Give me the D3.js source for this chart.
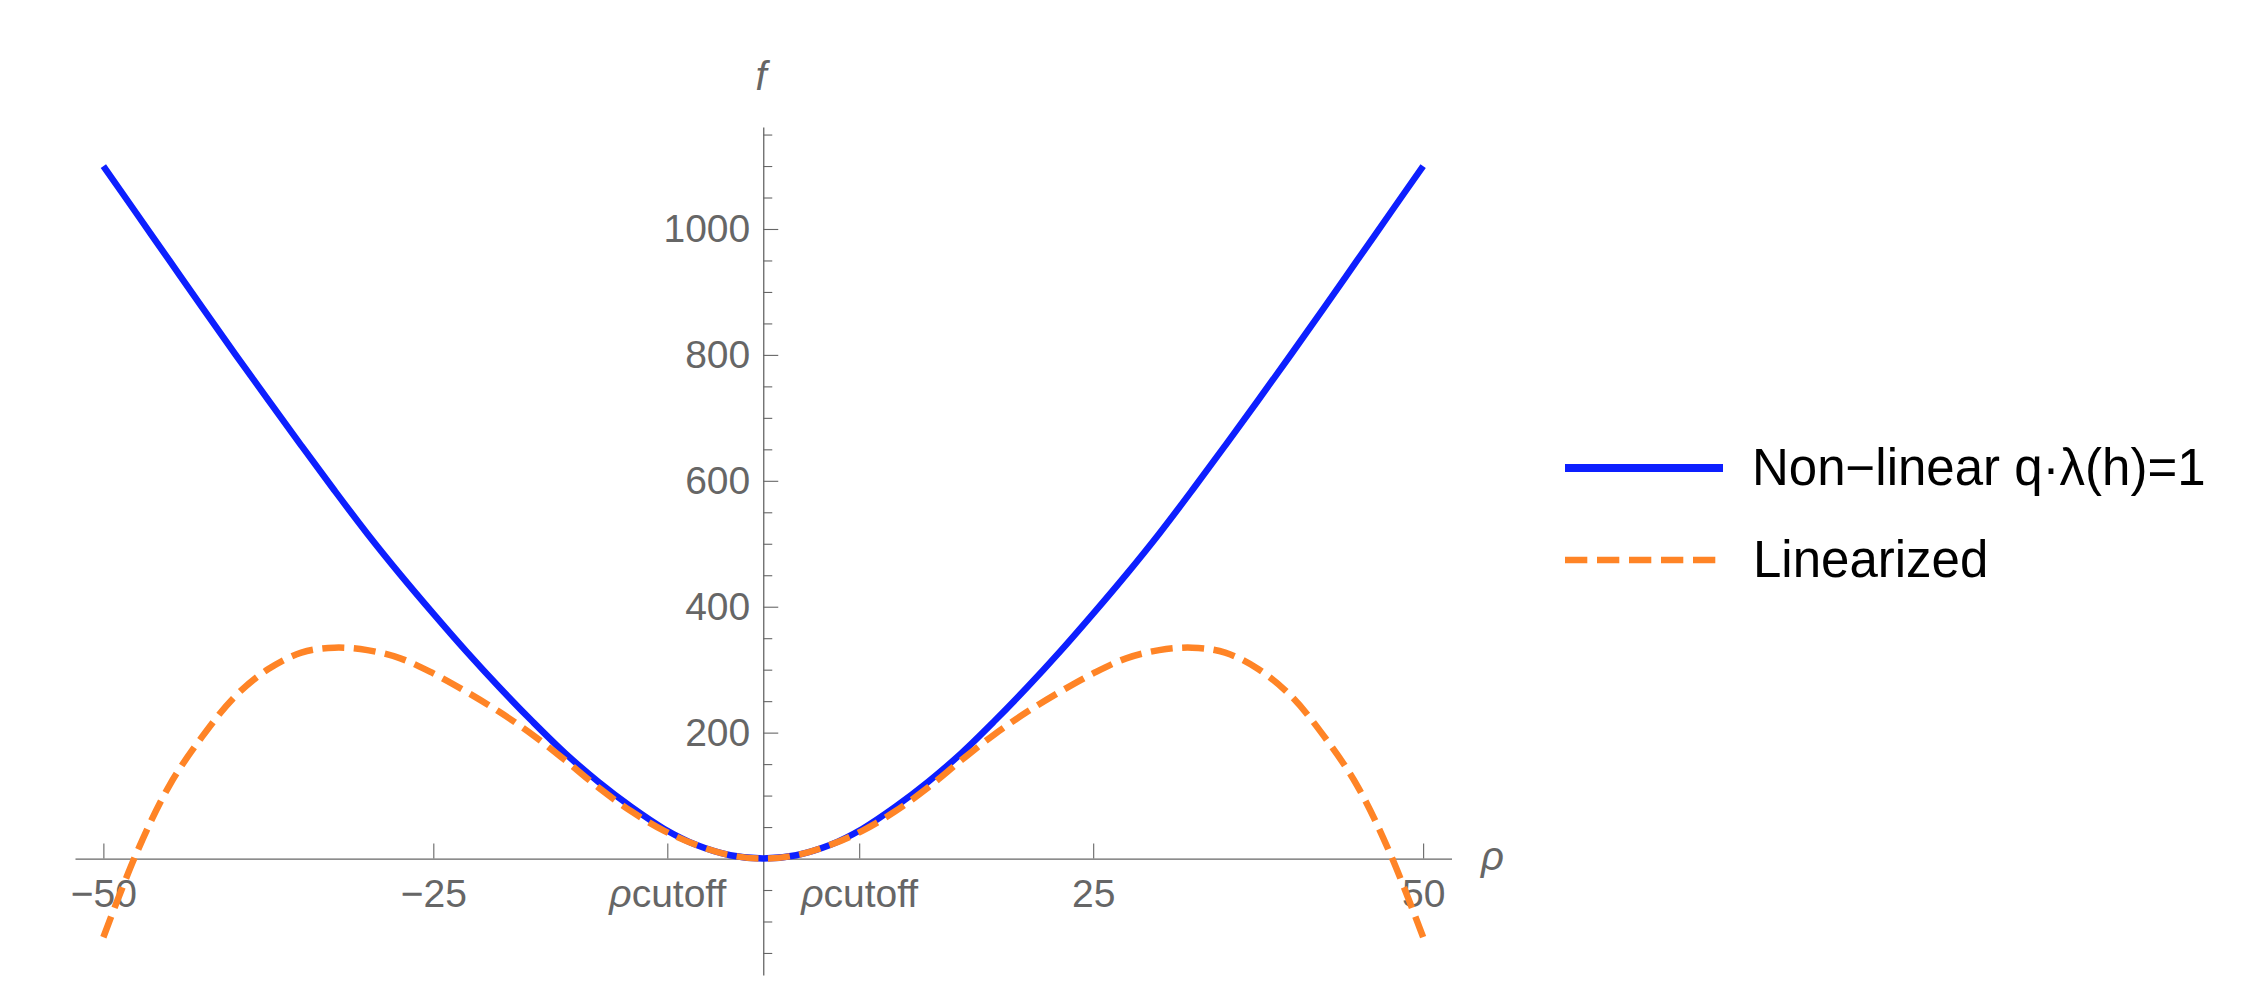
<!DOCTYPE html>
<html>
<head>
<meta charset="utf-8">
<script src="https://cdn.jsdelivr.net/npm/d3@7"></script>
<style>
  html, body { margin: 0; padding: 0; background: #fff; }
  svg { display: block; }
  text { font-family: "Liberation Sans", Arial, Helvetica, sans-serif; }
</style>
</head>
<body>
<div id="chart"></div>
<script>
// ---- Data ----
const rho = [-50, -47.5, -45, -42.5, -40, -37.5, -35, -32.5, -30, -27.5, -25, -22.5, -20, -17.5, -15, -12.5, -10, -7.5, -5, -2.5,
             0, 2.5, 5, 7.5, 10, 12.5, 15, 17.5, 20, 22.5, 25, 27.5, 30, 32.5, 35, 37.5, 40, 42.5, 45, 47.5, 50];
const nonLinear = [1100, 1025, 950, 875, 801, 728, 656, 585, 516, 451, 389, 329, 272, 218, 167, 122, 82, 47, 21, 5.3,
                   0, 5.3, 21, 47, 82, 122, 167, 218, 272, 329, 389, 451, 516, 585, 656, 728, 801, 875, 950, 1025, 1100];
const linearized = [-125, 8, 116, 194, 258, 301, 327, 335, 331, 318, 294, 265, 233, 197, 156, 113, 75, 44, 21, 5.3,
                    0, 5.3, 21, 44, 75, 113, 156, 197, 233, 265, 294, 318, 331, 335, 327, 301, 258, 194, 116, 8, -125];
const rhoCutoff = 7.27;
const xTickValues = [-50, -25, -rhoCutoff, rhoCutoff, 25, 50];
const xTickLabels = ["\u221250", "\u221225", "\u03C1cutoff", "\u03C1cutoff", "25", "50"];
const yMajorTicks = [200, 400, 600, 800, 1000];
const yMinorTicks = [-150, -100, -50, 50, 100, 150, 250, 300, 350, 450, 500, 550, 650, 700, 750, 850, 900, 950, 1050, 1100, 1150];
const seriesNames = ["Non\u2212linear q\u00B7\u03BB(h)=1", "Linearized"];
const seriesColors = ["#0D1FFF", "#FF8426"];

// ---- Layout ----
const W = 2262, H = 982;
const axisColor = "#666666";
const svg = d3.select("#chart").append("svg").attr("width", W).attr("height", H);
svg.append("rect").attr("width", W).attr("height", H).attr("fill", "#fff");

const x = d3.scaleLinear().domain([-52.15, 52.15]).range([75, 1451.5]);
const y = d3.scaleLinear().domain([-185, 1162]).range([975, 127]);

// ---- Axes ----
const xAxis = d3.axisBottom(x)
  .tickValues(xTickValues)
  .tickFormat((d, i) => xTickLabels[i])
  .tickSizeInner(-15).tickSizeOuter(0).tickPadding(21);
const gx = svg.append("g").attr("transform", `translate(0,${y(0)})`).call(xAxis);
gx.select(".domain").attr("stroke", axisColor).attr("stroke-width", 1.3);
gx.selectAll(".tick line").attr("stroke", axisColor).attr("stroke-width", 1.1);
gx.selectAll(".tick text").attr("fill", axisColor).attr("font-size", 39)
  .attr("font-family", '"Liberation Sans", Arial, sans-serif')
  .each(function(d, i) {
    const t = d3.select(this);
    const lbl = xTickLabels[i];
    if (lbl.startsWith("\u03C1")) {
      t.text(null);
      t.append("tspan").attr("font-style", "italic").text("\u03C1");
      t.append("tspan").text(lbl.slice(1));
    }
  });

const yAxis = d3.axisLeft(y)
  .tickValues(yMajorTicks)
  .tickFormat(d3.format("d"))
  .tickSizeInner(-15).tickSizeOuter(0).tickPadding(13);
const gy = svg.append("g").attr("transform", `translate(${x(0)},0)`).call(yAxis);
gy.select(".domain").attr("stroke", axisColor).attr("stroke-width", 1.3);
gy.selectAll(".tick line").attr("stroke", axisColor).attr("stroke-width", 1.1);
gy.selectAll(".tick text").attr("fill", axisColor).attr("font-size", 39)
  .attr("font-family", '"Liberation Sans", Arial, sans-serif');

const yMinor = d3.axisLeft(y).tickValues(yMinorTicks).tickSizeInner(-9).tickSizeOuter(0).tickFormat("");
const gym = svg.append("g").attr("transform", `translate(${x(0)},0)`).call(yMinor);
gym.select(".domain").remove();
gym.selectAll(".tick line").attr("stroke", axisColor).attr("stroke-width", 1.1);

// axis labels
svg.append("text").attr("x", 761).attr("y", 90).attr("text-anchor", "middle")
  .attr("font-size", 40).attr("font-style", "italic").attr("fill", axisColor).text("f");
svg.append("text").attr("x", 1481).attr("y", 870).attr("text-anchor", "start")
  .attr("font-size", 40).attr("font-style", "italic").attr("fill", axisColor).text("\u03C1");

// ---- Curves ----
const pts1 = rho.map((r, i) => [r, nonLinear[i]]);
const pts2 = rho.map((r, i) => [r, linearized[i]]);
const line = d3.line().x(d => x(d[0])).y(d => y(d[1])).curve(d3.curveCatmullRom.alpha(0.5));

svg.append("path").attr("d", line(pts1)).attr("fill", "none")
  .attr("stroke", seriesColors[0]).attr("stroke-width", 6.5).attr("stroke-linejoin", "round");
svg.append("path").attr("d", line(pts2)).attr("fill", "none")
  .attr("stroke", seriesColors[1]).attr("stroke-width", 6.5)
  .attr("stroke-dasharray", "22,9.5");

// ---- Legend ----
const legend = svg.append("g");
legend.append("line").attr("x1", 1565).attr("x2", 1723).attr("y1", 468).attr("y2", 468)
  .attr("stroke", seriesColors[0]).attr("stroke-width", 8);
legend.append("line").attr("x1", 1565).attr("x2", 1716).attr("y1", 560).attr("y2", 560)
  .attr("stroke", seriesColors[1]).attr("stroke-width", 6.7).attr("stroke-dasharray", "22.3,9.7");
legend.append("text").attr("x", 1752).attr("y", 485).attr("font-size", 51).attr("fill", "#000").text(seriesNames[0]);
legend.append("text").attr("x", 1753).attr("y", 577).attr("font-size", 51).attr("fill", "#000").text(seriesNames[1]);
</script>
</body>
</html>
